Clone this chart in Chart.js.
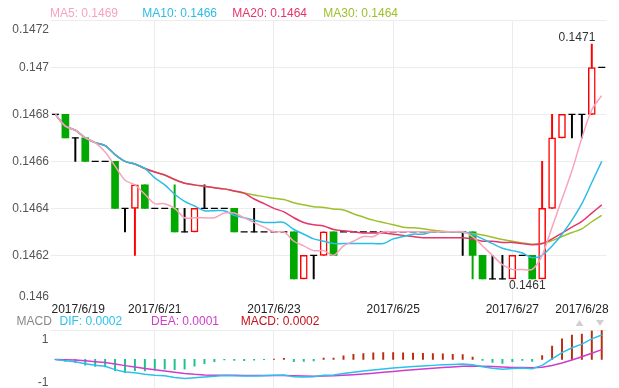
<!DOCTYPE html>
<html>
<head>
<meta charset="utf-8">
<script src="https://cdn.jsdelivr.net/npm/chart.js@4.4.0/dist/chart.umd.min.js"></script>
<style>
  html, body { margin: 0; padding: 0; background: #fff; overflow: hidden; }
  #wrap { position: relative; width: 619px; height: 388px; overflow: hidden; }
  #mainChart { position: absolute; left: 0; top: 0; }
  #macdChart { position: absolute; left: 0; top: 300px; }
</style>
</head>
<body>
<div id="wrap">
  <canvas id="mainChart" width="619" height="388"></canvas>
  <canvas id="macdChart" width="619" height="90"></canvas>
</div>
<script>
// --- DADOS ---
const open = [0.1468, 0.1468, 0.1467, 0.1467, 0.1466, 0.1466, 0.1466, 0.1464, 0.1464, 0.1465,
  0.1464, 0.1464, 0.1464, 0.1463, 0.1463, 0.1464, 0.1464, 0.1464, 0.1464, 0.1463,
  0.1463, 0.1463, 0.1463, 0.1463, 0.1463, 0.1461, 0.1462, 0.1462, 0.1463, 0.1463,
  0.1463, 0.1463, 0.1463, 0.1463, 0.1463, 0.1463, 0.1463, 0.1463, 0.1463, 0.1463,
  0.1463, 0.1463, 0.1463, 0.1462, 0.1461, 0.1461, 0.1461, 0.1462, 0.1462, 0.1461,
  0.1464, 0.1467, 0.1468, 0.1468, 0.1468, 0.147];
const close = [0.1468, 0.1467, 0.1467, 0.1466, 0.1466, 0.1466, 0.1464, 0.1464, 0.1465, 0.1464,
  0.1464, 0.1464, 0.1463, 0.1463, 0.1464, 0.1464, 0.1464, 0.1464, 0.1463, 0.1463,
  0.1463, 0.1463, 0.1463, 0.1463, 0.1461, 0.1462, 0.1462, 0.1463, 0.1462, 0.1463,
  0.1463, 0.1463, 0.1463, 0.1463, 0.1463, 0.1463, 0.1463, 0.1463, 0.1463, 0.1463,
  0.1463, 0.1463, 0.1462, 0.1461, 0.1461, 0.1461, 0.1462, 0.1462, 0.1461, 0.1464,
  0.1467, 0.1468, 0.1468, 0.1468, 0.147, 0.147];
const high = [0.1468, 0.1468, 0.1467, 0.1467, 0.1466, 0.1466, 0.1466, 0.1464, 0.1465, 0.1465,
  0.1464, 0.1464, 0.1465, 0.1464, 0.1464, 0.1465, 0.1464, 0.1464, 0.1464, 0.1463,
  0.1464, 0.1463, 0.1463, 0.1463, 0.1463, 0.1462, 0.1462, 0.1463, 0.1463, 0.1463,
  0.1463, 0.1463, 0.1463, 0.1463, 0.1463, 0.1463, 0.1463, 0.1463, 0.1463, 0.1463,
  0.1463, 0.1463, 0.1463, 0.1462, 0.1462, 0.1462, 0.1462, 0.1462, 0.1462, 0.1466,
  0.1468, 0.1468, 0.1468, 0.1468, 0.1471, 0.147];
const low = [0.1468, 0.1467, 0.1466, 0.1466, 0.1466, 0.1466, 0.1464, 0.1463, 0.1462, 0.1464,
  0.1464, 0.1464, 0.1463, 0.1463, 0.1463, 0.1464, 0.1464, 0.1464, 0.1463, 0.1463,
  0.1463, 0.1463, 0.1463, 0.1463, 0.1461, 0.1461, 0.1461, 0.1462, 0.1462, 0.1463,
  0.1463, 0.1463, 0.1463, 0.1463, 0.1463, 0.1463, 0.1463, 0.1463, 0.1463, 0.1463,
  0.1463, 0.1462, 0.1461, 0.1461, 0.1461, 0.1461, 0.1461, 0.1462, 0.1461, 0.1461,
  0.1464, 0.1467, 0.1467, 0.1467, 0.1468, 0.147];

const ma5 = [0.1468, 0.14675, 0.146733, 0.1467, 0.14668, 0.14664, 0.14658, 0.14652, 0.1465, 0.14646,
  0.14642, 0.14642, 0.1464, 0.14636, 0.14636, 0.14636, 0.14636, 0.14638, 0.14638, 0.14636,
  0.14634, 0.14632, 0.1463, 0.1463, 0.14626, 0.14624, 0.14622, 0.14622, 0.1462, 0.14624,
  0.14626, 0.14628, 0.14628, 0.1463, 0.1463, 0.1463, 0.1463, 0.1463, 0.1463, 0.1463,
  0.1463, 0.1463, 0.14628, 0.14624, 0.1462, 0.14616, 0.14614, 0.14614, 0.14614, 0.1462,
  0.14632, 0.14644, 0.14656, 0.1467, 0.14682, 0.14688];
const ma10 = [0.1468, 0.14675, 0.146733, 0.1467, 0.14668, 0.146667, 0.146629, 0.1466, 0.146589, 0.14657,
  0.14653, 0.1465, 0.14646, 0.14643, 0.14641, 0.14639, 0.14639, 0.14639, 0.14637, 0.14636,
  0.14635, 0.14634, 0.14634, 0.14634, 0.14631, 0.14629, 0.14627, 0.14626, 0.14625, 0.14625,
  0.14625, 0.14625, 0.14625, 0.14625, 0.14627, 0.14628, 0.14629, 0.14629, 0.1463, 0.1463,
  0.1463, 0.1463, 0.14629, 0.14627, 0.14625, 0.14623, 0.14622, 0.14621, 0.14619, 0.1462,
  0.14624, 0.14629, 0.14635, 0.14642, 0.14651, 0.1466];
const ma20 = [0.1468, 0.14675, 0.146733, 0.1467, 0.14668, 0.146667, 0.146629, 0.1466, 0.146589, 0.14657,
  0.146555, 0.146542, 0.146523, 0.146507, 0.1465, 0.146494, 0.146488, 0.146483, 0.146474, 0.146465,
  0.14644, 0.14642, 0.1464, 0.146385, 0.14636, 0.14634, 0.14633, 0.146325, 0.14631, 0.146305,
  0.1463, 0.146295, 0.146295, 0.146295, 0.14629, 0.146285, 0.14628, 0.146275, 0.146275, 0.146275,
  0.146275, 0.146275, 0.14627, 0.14626, 0.14626, 0.146255, 0.146255, 0.14625, 0.146245, 0.14625,
  0.14627, 0.146295, 0.14632, 0.146345, 0.14638, 0.146415];
const ma30 = [0.1468, 0.14675, 0.146733, 0.1467, 0.14668, 0.146667, 0.146629, 0.1466, 0.146589, 0.14657,
  0.146555, 0.146542, 0.146523, 0.146507, 0.1465, 0.146494, 0.146488, 0.146483, 0.146474, 0.146465,
  0.146457, 0.14645, 0.146443, 0.146438, 0.146424, 0.146415, 0.146407, 0.146404, 0.146397, 0.146393,
  0.146377, 0.146363, 0.14635, 0.14634, 0.14633, 0.14632, 0.146317, 0.146313, 0.146307, 0.146303,
  0.1463, 0.146297, 0.146293, 0.146287, 0.146277, 0.146267, 0.14626, 0.146253, 0.146247, 0.14625,
  0.146263, 0.14628, 0.146297, 0.146313, 0.146343, 0.14637];

// MACD em unidades de 0.0001
const macdUnit = 0.0001;
const dif = [0, -0.080, -0.141, -0.268, -0.364, -0.435, -0.645, -0.802, -0.837, -0.934,
  -1.000, -1.039, -1.139, -1.203, -1.161, -1.114, -1.065, -1.014, -1.042, -1.053,
  -1.049, -1.034, -1.010, -0.980, -1.105, -1.111, -1.102, -1.004, -0.994, -0.896,
  -0.809, -0.731, -0.662, -0.601, -0.545, -0.496, -0.452, -0.412, -0.376, -0.343,
  -0.314, -0.288, -0.343, -0.463, -0.551, -0.614, -0.576, -0.541, -0.586, -0.376,
  0.033, 0.432, 0.740, 0.973, 1.304, 1.548];
const dea = [0, -0.016, -0.041, -0.086, -0.142, -0.200, -0.289, -0.392, -0.481, -0.572,
  -0.657, -0.734, -0.815, -0.892, -0.946, -0.980, -0.997, -1.000, -1.009, -1.017,
  -1.024, -1.026, -1.023, -1.014, -1.032, -1.048, -1.059, -1.048, -1.037, -1.009,
  -0.969, -0.922, -0.870, -0.816, -0.762, -0.709, -0.657, -0.608, -0.562, -0.518,
  -0.477, -0.439, -0.420, -0.429, -0.453, -0.485, -0.504, -0.511, -0.526, -0.496,
  -0.390, -0.226, -0.032, 0.169, 0.396, 0.626];
const hist = [0, -0.128, -0.201, -0.363, -0.444, -0.469, -0.711, -0.821, -0.712, -0.725,
  -0.685, -0.612, -0.648, -0.622, -0.429, -0.269, -0.136, -0.028, -0.068, -0.071,
  -0.051, -0.016, 0.024, 0.068, -0.146, -0.125, -0.087, 0.089, 0.086, 0.226,
  0.320, 0.380, 0.415, 0.430, 0.433, 0.425, 0.411, 0.393, 0.372, 0.349,
  0.326, 0.304, 0.154, -0.068, -0.196, -0.257, -0.146, -0.059, -0.120, 0.240,
  0.846, 1.316, 1.545, 1.609, 1.816, 1.844];

// eixos
const xTickIndex = [0, 10, 22, 34, 46, 55];
const xTickLabels = ['2017/6/19', '2017/6/21', '2017/6/23', '2017/6/25', '2017/6/27', '2017/6/28'];
const gridIndex = [10, 22, 34, 46];
const yTicks = [0.146, 0.1462, 0.1464, 0.1466, 0.1468, 0.147, 0.1472];
const yTickLabels = ['0.146', '0.1462', '0.1464', '0.1466', '0.1468', '0.147', '0.1472'];
const macdMin = -1.85, macdMax = 1.85;
const macdTickLabels = ['1', '-1'];

// --- ESTILO ---
const FONT = '12px "Liberation Sans", Arial, sans-serif';
const GRID = '#ececec';
const RED = '#ff0000';
const GREEN = '#00a800';
const C_MA5 = '#f8a3bb', C_MA10 = '#2cbde6', C_MA20 = '#e6356a', C_MA30 = '#9cc02c';
const C_DIF = '#2cc0ec', C_DEA = '#d03ccc', C_POS = '#bb2c0e', C_NEG = '#1ec08c';

const idx = open.map((_, i) => i);
const isUp = i => close[i] > open[i];
const isDown = i => close[i] < open[i];
const candleColor = i => isUp(i) ? RED : (isDown(i) ? GREEN : '#000');
const fmt4 = v => v.toFixed(4);

function maLine(label, data, color) {
    return { type: 'line', label, data, borderColor: color, borderWidth: 1.5, pointRadius: 0, tension: 0.3, order: 0 };
}

// --- GRÁFICO PRINCIPAL ---
const mainLabels = {
    id: 'mainLabels',
    afterDraw(chart) {
        const { ctx, chartArea, scales: { x, y } } = chart;
        ctx.save();
        ctx.font = FONT;
        ctx.textBaseline = 'middle';

        // rótulos do eixo y
        ctx.fillStyle = '#555';
        ctx.textAlign = 'right';
        yTicks.forEach((v, i) => {
            let py = y.getPixelForValue(v);
            if (i === yTicks.length - 1) py += 9.5;
            if (i === 0) py -= 6;
            ctx.fillText(yTickLabels[i], 49, py);
        });

        // rótulos do eixo x
        ctx.fillStyle = '#222';
        xTickIndex.forEach((k, i) => {
            let px = x.getPixelForValue(k);
            if (i === 0) { ctx.textAlign = 'left'; px = chartArea.left + 1; }
            else if (i === xTickIndex.length - 1) { ctx.textAlign = 'right'; px = chartArea.right + 2; }
            else ctx.textAlign = 'center';
            ctx.fillText(xTickLabels[i], px, 310);
        });

        // máximo e mínimo
        const hi = Math.max(...high), lo = Math.min(...low);
        const hiIdx = high.lastIndexOf(hi), loIdx = low.lastIndexOf(lo);
        ctx.fillStyle = '#333';
        ctx.textAlign = 'right';
        ctx.fillText(String(hi), x.getPixelForValue(hiIdx) + 3.5, y.getPixelForValue(hi) - 6.5);
        ctx.fillText(String(lo), x.getPixelForValue(loIdx) + 3.5, y.getPixelForValue(lo) + 7);

        // legenda
        ctx.textAlign = 'left';
        const last = ma5.length - 1;
        [['MA5', ma5, C_MA5, 50], ['MA10', ma10, C_MA10, 142.3], ['MA20', ma20, C_MA20, 232.3], ['MA30', ma30, C_MA30, 323.3]]
            .forEach(([name, arr, color, px]) => {
                ctx.fillStyle = color;
                ctx.fillText(name + ': ' + fmt4(arr[last]), px, 13.5);
            });
        ctx.restore();
    }
};

new Chart(document.getElementById('mainChart'), {
    type: 'bar',
    data: {
        labels: idx,
        datasets: [
            maLine('MA5', ma5, C_MA5),
            maLine('MA10', ma10, C_MA10),
            maLine('MA20', ma20, C_MA20),
            maLine('MA30', ma30, C_MA30),
            {
                type: 'line', label: 'doji',
                data: open.map((o, i) => o === close[i] ? o : null),
                showLine: false, pointStyle: 'line', pointRadius: 3.5,
                borderColor: '#000', borderWidth: 1.2, order: 1
            },
            {
                label: 'body',
                data: open.map((o, i) => o === close[i] ? null : [o, close[i]]),
                backgroundColor: idx.map(i => isUp(i) ? '#fff' : GREEN),
                borderColor: idx.map(i => isUp(i) ? RED : GREEN),
                borderWidth: idx.map(i => isUp(i) ? 1.5 : 0),
                borderSkipped: false, barThickness: 7, grouped: false, order: 2
            },
            {
                label: 'wick',
                data: low.map((l, i) => l === high[i] ? null : [l, high[i]]),
                backgroundColor: idx.map(candleColor),
                barThickness: 1.3, grouped: false, order: 3
            }
        ]
    },
    options: {
        responsive: false,
        animation: false,
        devicePixelRatio: 1,
        events: [],
        layout: { padding: { left: 50.5, right: 12.3, top: 20.5, bottom: 85.7 } },
        plugins: { legend: { display: false }, tooltip: { enabled: false } },
        scales: {
            x: {
                offset: true,
                grid: { offset: false, drawTicks: false, color: c => gridIndex.includes(c.index) ? GRID : 'transparent' },
                ticks: { display: false },
                border: { display: false },
                afterFit: s => { s.height = 0; }
            },
            y: {
                min: yTicks[0], max: yTicks[yTicks.length - 1],
                afterBuildTicks: s => { s.ticks = yTicks.map(v => ({ value: v })); },
                grid: { drawTicks: false, color: c => c.index === 0 ? 'transparent' : GRID },
                ticks: { display: false },
                border: { display: false },
                afterFit: s => { s.width = 0; }
            }
        }
    },
    plugins: [mainLabels]
});

// --- MACD ---
const macdLabels = {
    id: 'macdLabels',
    afterDraw(chart) {
        const { ctx, scales: { y } } = chart;
        ctx.save();
        ctx.font = FONT;
        ctx.textBaseline = 'middle';
        ctx.fillStyle = '#555';
        ctx.textAlign = 'right';
        ctx.fillText(macdTickLabels[0], 48.5, y.getPixelForValue(macdMax) + 9);
        ctx.fillText(macdTickLabels[1], 48.5, y.getPixelForValue(macdMin) - 6);

        const last = dif.length - 1;
        ctx.textAlign = 'left';
        ctx.fillStyle = '#888';
        ctx.fillText('MACD', 16.5, 22);
        ctx.fillStyle = C_DIF;
        ctx.fillText('DIF: ' + fmt4(dif[last] * macdUnit), 59.5, 22);
        ctx.fillStyle = C_DEA;
        ctx.fillText('DEA: ' + fmt4(dea[last] * macdUnit), 151, 22);
        ctx.fillStyle = '#c4101c';
        ctx.fillText('MACD: ' + fmt4(hist[last] * macdUnit), 240.7, 22);

        // setas de zoom
        ctx.fillStyle = '#d0d0d0';
        ctx.beginPath();
        ctx.moveTo(575.5, 26); ctx.lineTo(583.5, 26); ctx.lineTo(579.5, 20); ctx.closePath(); ctx.fill();
        ctx.beginPath();
        ctx.moveTo(596, 20); ctx.lineTo(604, 20); ctx.lineTo(600, 26); ctx.closePath(); ctx.fill();
        ctx.restore();
    }
};

new Chart(document.getElementById('macdChart'), {
    type: 'bar',
    data: {
        labels: idx,
        datasets: [
            { type: 'line', label: 'DIF', data: dif, borderColor: C_DIF, borderWidth: 1.5, pointRadius: 0, tension: 0, order: 0 },
            { type: 'line', label: 'DEA', data: dea, borderColor: C_DEA, borderWidth: 1.5, pointRadius: 0, tension: 0, order: 1 },
            { label: 'MACD', data: hist, backgroundColor: hist.map(v => v >= 0 ? C_POS : C_NEG), barThickness: 1.3, order: 2 }
        ]
    },
    options: {
        responsive: false,
        animation: false,
        devicePixelRatio: 1,
        events: [],
        layout: { padding: { left: 50.5, right: 12.3, top: 30.3, bottom: 1.4 } },
        plugins: { legend: { display: false }, tooltip: { enabled: false } },
        scales: {
            x: {
                offset: true,
                grid: { offset: false, drawTicks: false, color: c => gridIndex.includes(c.index) ? GRID : 'transparent' },
                ticks: { display: false },
                border: { display: false },
                afterFit: s => { s.height = 0; }
            },
            y: {
                min: macdMin, max: macdMax,
                afterBuildTicks: s => { s.ticks = [{ value: macdMax }]; },
                grid: { drawTicks: false, color: GRID },
                ticks: { display: false },
                border: { display: false },
                afterFit: s => { s.width = 0; }
            }
        }
    },
    plugins: [macdLabels]
});
</script>
</body>
</html>
